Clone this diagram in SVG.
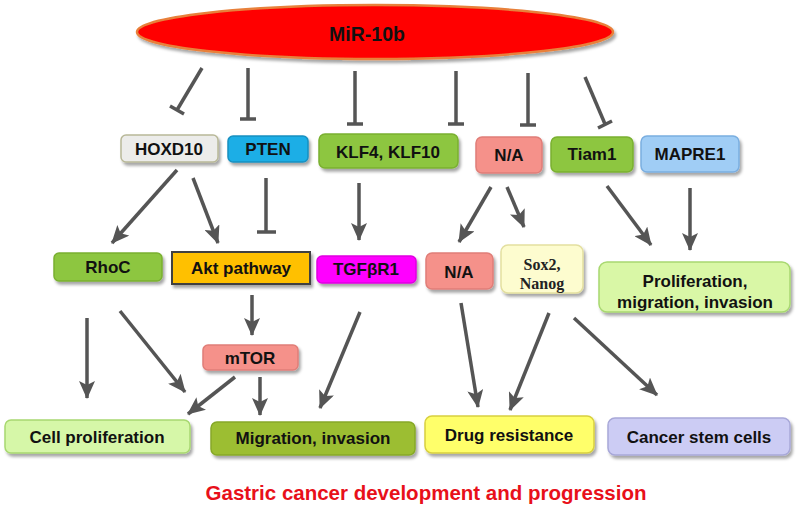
<svg xmlns="http://www.w3.org/2000/svg" width="800" height="508" viewBox="0 0 800 508">
<defs>
<filter id="sh" x="-10%" y="-20%" width="130%" height="160%">
<feDropShadow dx="2" dy="3" stdDeviation="1.5" flood-color="#000" flood-opacity="0.35"/>
</filter>
<marker id="ah" markerUnits="userSpaceOnUse" markerWidth="20" markerHeight="16" refX="17" refY="8" orient="auto">
<path d="M0,0 L18,8 L0,16 L4,8 z" fill="#555"/>
</marker>
</defs>
<style>
.t{font-family:"Liberation Sans",Arial,sans-serif;font-weight:bold;font-size:17px;fill:#111;text-anchor:middle;dominant-baseline:central}
.s{font-family:"Liberation Serif","Times New Roman",serif;font-weight:bold;font-size:16px;fill:#222;text-anchor:middle}
.box{stroke-width:1.5;filter:url(#sh)}
.a{stroke:#555;stroke-width:3.5;fill:none;marker-end:url(#ah)}
.i{stroke:#555;stroke-width:3.5;fill:none}
</style>
<rect width="800" height="508" fill="#fff"/>

<g id="mir10b">
<ellipse cx="375" cy="32" rx="238" ry="27" fill="#ff0000" stroke="#e8803a" stroke-width="2.5" filter="url(#sh)"/>
<text class="t" x="367" y="34" style="font-size:19.5px">MiR-10b</text>
</g>

<g id="hoxd10"><rect class="box" x="121" y="135" width="97" height="27" rx="5" fill="#ececea" stroke="#b8b898"/><text class="t" x="169" y="149">HOXD10</text></g>
<g id="pten"><rect class="box" x="228" y="136" width="80" height="26" rx="5" fill="#1aaee6" stroke="#1a90c0"/><text class="t" x="268" y="149">PTEN</text></g>
<g id="klf"><rect class="box" x="319" y="134" width="139" height="34" rx="6" fill="#8dc63f" stroke="#7ab030"/><text class="t" x="388" y="152">KLF4, KLF10</text></g>
<g id="na1"><rect class="box" x="476" y="137" width="66" height="36" rx="6" fill="#f5918a" stroke="#e07e78"/><text class="t" x="509" y="155">N/A</text></g>
<g id="tiam1"><rect class="box" x="551" y="137" width="82" height="35" rx="6" fill="#8dc63f" stroke="#7ab030"/><text class="t" x="592" y="154">Tiam1</text></g>
<g id="mapre1"><rect class="box" x="641" y="136" width="98" height="36" rx="6" fill="#a0cdf5" stroke="#7aaee0"/><text class="t" x="690" y="154">MAPRE1</text></g>

<g id="rhoc"><rect class="box" x="54" y="253" width="108" height="28" rx="5" fill="#8dc63f" stroke="#7ab030"/><text class="t" x="108" y="267">RhoC</text></g>
<g id="akt"><rect x="172" y="252" width="138" height="32" fill="#ffc000" stroke="#404040" stroke-width="2" filter="url(#sh)"/><text class="t" x="241" y="268">Akt pathway</text></g>
<g id="tgfbr1"><rect class="box" x="317" y="256" width="99" height="27" rx="5" fill="#ff00ff" stroke="#e000e0"/><text class="t" x="366" y="269">TGFβR1</text></g>
<g id="na2"><rect class="box" x="426" y="253" width="67" height="36" rx="6" fill="#f5918a" stroke="#e07e78"/><text class="t" x="459" y="272">N/A</text></g>
<g id="sox2"><rect class="box" x="501" y="245" width="82" height="48" rx="7" fill="#fdfccf" stroke="#e3dfa0"/><text class="s" x="542" y="270">Sox2,</text><text class="s" x="542" y="289">Nanog</text></g>
<g id="prolif"><rect class="box" x="599" y="262" width="191" height="50" rx="8" fill="#d9f7a6" stroke="#a8d870"/><text class="t" x="695" y="281">Proliferation,</text><text class="t" x="695" y="302">migration, invasion</text></g>

<g id="mtor"><rect class="box" x="203" y="345" width="95" height="25" rx="5" fill="#f5918a" stroke="#e07e78"/><text class="t" x="250" y="358">mTOR</text></g>

<g id="cellprolif"><rect class="box" x="5" y="420" width="185" height="33" rx="6" fill="#d6f7a8" stroke="#a8d870"/><text class="t" x="97" y="437">Cell proliferation</text></g>
<g id="migration"><rect class="box" x="211" y="422" width="204" height="33" rx="6" fill="#9cbe32" stroke="#86a828"/><text class="t" x="313" y="438">Migration, invasion</text></g>
<g id="drug"><rect class="box" x="425" y="416" width="169" height="37" rx="7" fill="#ffff6a" stroke="#d8d040"/><text class="t" x="509" y="435">Drug resistance</text></g>
<g id="csc"><rect class="box" x="608" y="418" width="182" height="37" rx="7" fill="#ccccf4" stroke="#a8a8d8"/><text class="t" x="699" y="437">Cancer stem cells</text></g>

<g id="connectors">
<line class="i" x1="202" y1="68" x2="177" y2="110"/><line class="i" x1="170" y1="106" x2="184" y2="114"/>
<line class="i" x1="248" y1="68" x2="248" y2="119"/><line class="i" x1="240" y1="119" x2="256" y2="119"/>
<line class="i" x1="355" y1="71" x2="355" y2="124"/><line class="i" x1="347" y1="124" x2="363" y2="124"/>
<line class="i" x1="456" y1="71" x2="456" y2="124"/><line class="i" x1="448" y1="124" x2="464" y2="124"/>
<line class="i" x1="528" y1="73" x2="528" y2="125"/><line class="i" x1="520" y1="125" x2="536" y2="125"/>
<line class="i" x1="585" y1="77" x2="605" y2="124"/><line class="i" x1="598" y1="128" x2="612" y2="121"/>
<line class="i" x1="266" y1="178" x2="266" y2="232"/><line class="i" x1="257" y1="232" x2="276" y2="232"/>

<line class="a" x1="177" y1="170" x2="112" y2="243"/>
<line class="a" x1="193" y1="178" x2="218" y2="243"/>
<line class="a" x1="359" y1="183" x2="359" y2="240"/>
<line class="a" x1="491" y1="187" x2="459" y2="242"/>
<line class="a" x1="507" y1="187" x2="524" y2="227"/>
<line class="a" x1="607" y1="186" x2="651" y2="245"/>
<line class="a" x1="690" y1="188" x2="690" y2="250"/>

<line class="a" x1="87" y1="318" x2="87" y2="398"/>
<line class="a" x1="120" y1="311" x2="185" y2="392"/>
<line class="a" x1="252" y1="295" x2="252" y2="335"/>
<line class="a" x1="235" y1="377" x2="188" y2="414"/>
<line class="a" x1="260" y1="377" x2="260" y2="415"/>
<line class="a" x1="360" y1="312" x2="320" y2="408"/>
<line class="a" x1="461" y1="303" x2="478" y2="407"/>
<line class="a" x1="549" y1="313" x2="510" y2="410"/>
<line class="a" x1="574" y1="318" x2="657" y2="395"/>
</g>

<text id="title" x="426" y="492" style="font-family:'Liberation Sans',Arial,sans-serif;font-weight:bold;font-size:20.5px;fill:#e8101a;text-anchor:middle;dominant-baseline:central">Gastric cancer development and progression</text>
</svg>
